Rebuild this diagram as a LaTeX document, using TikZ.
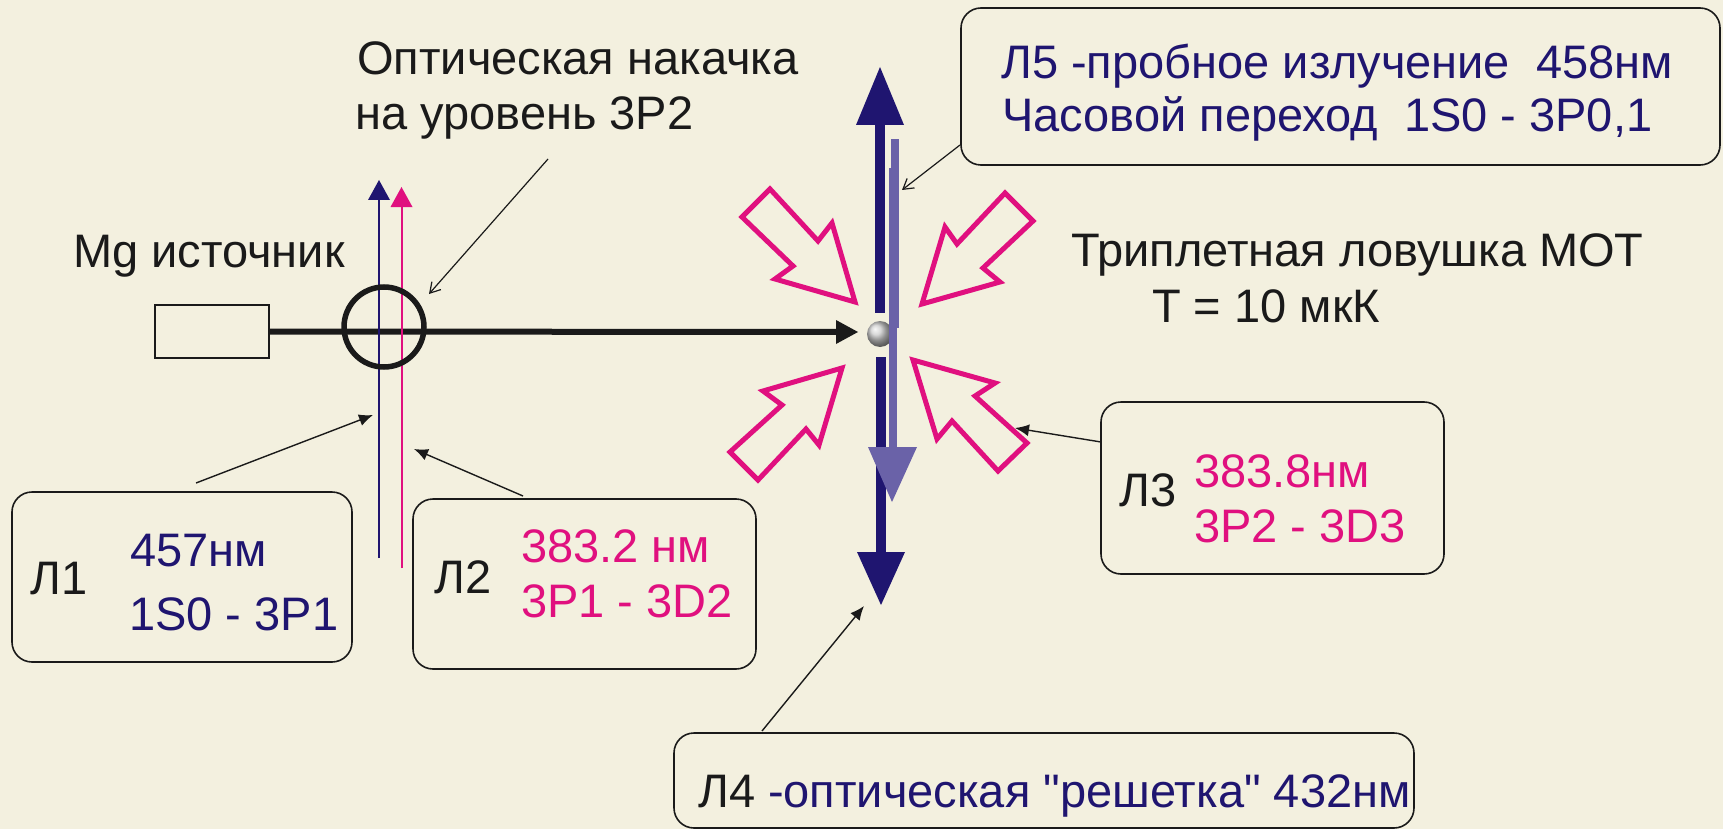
\documentclass[tikz,border=0pt]{standalone}
\usepackage{fontspec}
\newfontfamily\plainfont{Liberation Sans}
\definecolor{bgc}{HTML}{F3F0DF}
\definecolor{navy}{HTML}{1F1570}
\definecolor{lav}{HTML}{6A62A8}
\definecolor{pinkc}{HTML}{E0107F}
\definecolor{inkc}{HTML}{1A1A1A}
\usetikzlibrary{arrows.meta}
\tikzset{
  x=1pt,y=-1pt,
  lbox/.style={draw=inkc,line width=1.6pt,rounded corners=20pt},
  hollow/.style={draw=pinkc,line width=5pt,miter limit=10},
  callout/.style={draw=inkc,line width=1.4pt,-{Latex[length=14pt,width=12pt]}},
  calloutopen/.style={draw=inkc,line width=1.2pt,-{Straight Barb[length=10pt,width=12pt]}},
  txt/.style={inner sep=0pt,anchor=base west,font=\plainfont\fontsize{47}{47}\selectfont},
}
\begin{document}
\begin{tikzpicture}
\useasboundingbox[fill=bgc] (0,0) rectangle (1723,829);
% boxes
\draw[lbox] (12,492) rectangle (352,662);
\draw[lbox] (413,499) rectangle (756,669);
\draw[lbox] (1101,402) rectangle (1444,574);
\draw[lbox] (961,8) rectangle (1720,165);
\draw[lbox] (674,733) rectangle (1414,828);
% named anchors for connectors
\coordinate (c1a) at (196,483); \coordinate (c1b) at (373,415);
\coordinate (c2a) at (523,496); \coordinate (c2b) at (414,449);
\coordinate (c3a) at (1101,442); \coordinate (c3b) at (1015,428);
\coordinate (c4a) at (762,731); \coordinate (c4b) at (864,606);
\coordinate (c5a) at (960,145); \coordinate (c5b) at (902,190);
\coordinate (c6a) at (548,159); \coordinate (c6b) at (429,294);
% source
\node[draw=inkc,line width=1.6pt,minimum width=114pt,minimum height=53pt,inner sep=0pt] (src) at (212,331.5) {};
\coordinate (beamEnd) at (838,332);
\draw[line width=6pt,inkc] (src.east) -- (beamEnd);
\fill[inkc] (836,320) -- (858,332) -- (836,344) -- cycle;
% thin beams
\coordinate (b1a) at (379,558); \coordinate (b1b) at (379,195);
\coordinate (b2a) at (401.5,568); \coordinate (b2b) at (401.5,202);
\draw[navy,line width=2pt] (b1a) -- (b1b);
\fill[navy] (368,200) -- (379,180) -- (390,200) -- cycle;
\draw[pinkc,line width=2pt] (b2a) -- (b2b);
\fill[pinkc] (390.5,207) -- (401.5,187) -- (412.5,207) -- cycle;
\node[draw=inkc,line width=5.5pt,circle,minimum size=80pt,inner sep=0pt] (ring) at (384,327) {};
% big navy
\fill[navy] (875,120) rectangle (885,313);
\fill[navy] (856,125) -- (880,67) -- (904,125) -- cycle;
\fill[navy] (876,357) rectangle (886,555);
\fill[navy] (857,552) -- (881,605) -- (905,552) -- cycle;
% ball
\shade[ball color=gray!40] (880,334) circle (13);
% lavender
\fill[lav] (891,139) rectangle (899,170);
\fill[lav] (889,168) rectangle (899,328);
\fill[lav] (889,328) rectangle (897,450);
\fill[lav] (868,447) -- (917,447) -- (892,502) -- cycle;
% pink hollow arrows
\draw[hollow] (742,217) -- (770,189) -- (818,241) -- (832,223) -- (855,302) -- (775,279) -- (793,266) -- cycle;
\draw[hollow] (1005,193) -- (1033,221) -- (983,268) -- (1000,282) -- (922,304) -- (945,227) -- (957,244) -- cycle;
\draw[hollow] (842,368) -- (763,391) -- (782,405) -- (730,452) -- (758,480) -- (806,429) -- (819,445) -- cycle;
\draw[hollow] (913,360) -- (995,383) -- (975,396) -- (1027,443) -- (998,471) -- (952,421) -- (937,439) -- cycle;
% connectors
\draw[callout] (c1a) -- (c1b);
\draw[callout] (c2a) -- (c2b);
\draw[callout] (c3a) -- (c3b);
\draw[callout] (c4a) -- (c4b);
\draw[calloutopen] (c5a) -- (c5b);
\draw[calloutopen] (c6a) -- (c6b);
% text
\node[txt,inkc] (t1) at (357,75) {Оптическая накачка};
\node[txt,inkc] (t2) at (355,130) {на уровень 3Р2};
\node[txt,inkc] (t3) at (73,267) {Mg источник};
\node[txt,inkc] (t4) at (1071,266) {Триплетная ловушка МОТ};
\node[txt,inkc] (t5) at (1152,322) {Т = 10 мкК};
\node[txt,navy] (t6) at (1001,79) {Л5 -пробное излучение~~458нм};
\node[txt,navy] (t7) at (1002,132) {Часовой переход~~1S0 - 3Р0,1};
\node[txt,inkc] (t8) at (30,594) {Л1};
\node[txt,navy] (t9) at (130,566) {457нм};
\node[txt,navy] (t10) at (129,630) {1S0 - 3Р1};
\node[txt,inkc] (t11) at (434,593) {Л2};
\node[txt,pinkc] (t12) at (521,562) {383.2 нм};
\node[txt,pinkc] (t13) at (521,617) {3Р1 - 3D2};
\node[txt,inkc] (t14) at (1119,506) {Л3};
\node[txt,pinkc] (t15) at (1194,487) {383.8нм};
\node[txt,pinkc] (t16) at (1194,542) {3Р2 - 3D3};
\node[txt,inkc] (t17) at (698,807) {Л4};
\node[txt,navy] (t18) at (768,807) {-оптическая "решетка" 432нм};
\end{tikzpicture}
\end{document}
